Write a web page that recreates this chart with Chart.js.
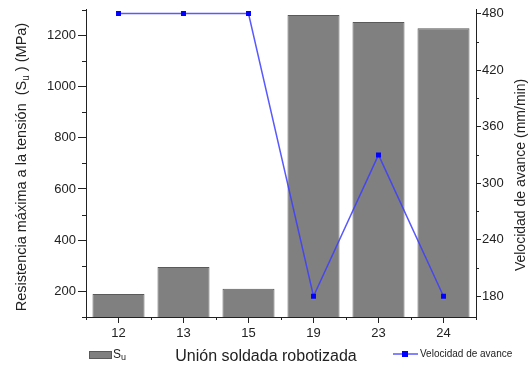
<!DOCTYPE html>
<html>
<head>
<meta charset="utf-8">
<script src="https://cdn.jsdelivr.net/npm/chart.js@4"></script>
<style>
  body { margin: 0; background: #fff; }
</style>
</head>
<body>
<canvas id="weldChart" width="532" height="368"></canvas>
<script>
const categories = ['12', '13', '15', '19', '23', '24'];
const suValues = [190, 295, 210, 1280, 1252, 1228];
const speedValues = [480, 480, 480, 180, 330, 180];
const suTicks = [200, 400, 600, 800, 1000, 1200];
const suMinorTicks = [100, 300, 500, 700, 900, 1100, 1300];
const speedTicks = [180, 240, 300, 360, 420, 480];
const speedMinorTicks = [210, 270, 330, 390, 450];

const FONT = '"Liberation Sans", Arial, sans-serif';
const INK = '#222';

// minor ticks, axis titles and the bottom legend are drawn by hand
const extrasPlugin = {
    id: 'extras',
    afterDraw(chart) {
        const ctx = chart.ctx;
        const { y, y1, x } = chart.scales;
        const area = chart.chartArea;
        ctx.save();
        ctx.strokeStyle = INK;
        ctx.lineWidth = 1;
        ctx.beginPath();
        suMinorTicks.forEach(v => {
            const py = Math.round(y.getPixelForValue(v)) + 0.5;
            ctx.moveTo(area.left - 4, py);
            ctx.lineTo(area.left, py);
        });
        speedMinorTicks.forEach(v => {
            const py = Math.round(y1.getPixelForValue(v)) + 0.5;
            ctx.moveTo(area.right, py);
            ctx.lineTo(area.right + 3, py);
        });
        for (let i = 0; i <= categories.length; i++) {
            const px = Math.round(x.getPixelForValue(i - 0.5)) + 0.5;
            ctx.moveTo(px, area.bottom);
            ctx.lineTo(px, area.bottom + 3);
        }
        ctx.stroke();

        ctx.fillStyle = INK;
        ctx.textBaseline = 'middle';

        // left title, with subscript u
        ctx.save();
        ctx.translate(22, 167);
        ctx.rotate(-Math.PI / 2);
        const partA = 'Resistencia máxima a la tensión  (S';
        const partB = ' ) (MPa)';
        ctx.font = '14.5px ' + FONT;
        const wA = ctx.measureText(partA).width;
        const wB = ctx.measureText(partB).width;
        ctx.font = '10px ' + FONT;
        const wU = ctx.measureText('u').width;
        const total = wA + wU + wB;
        ctx.textAlign = 'left';
        ctx.font = '14.5px ' + FONT;
        ctx.fillText(partA, -total / 2, 0);
        ctx.font = '10px ' + FONT;
        ctx.fillText('u', -total / 2 + wA, 4);
        ctx.font = '14.5px ' + FONT;
        ctx.fillText(partB, -total / 2 + wA + wU, 0);
        ctx.restore();

        // right title
        ctx.save();
        ctx.translate(521, 175);
        ctx.rotate(-Math.PI / 2);
        ctx.textAlign = 'center';
        ctx.font = '14px ' + FONT;
        ctx.fillText('Velocidad de avance (mm/min)', 0, 0);
        ctx.restore();

        // x title
        ctx.textAlign = 'center';
        ctx.font = '16px ' + FONT;
        ctx.fillText('Unión soldada robotizada', 266, 357);

        // legend: bars
        ctx.fillStyle = '#808080';
        ctx.fillRect(89, 351, 23, 8);
        ctx.strokeStyle = '#5a5a5a';
        ctx.strokeRect(89.5, 351.5, 22, 7);
        ctx.fillStyle = INK;
        ctx.textAlign = 'left';
        ctx.font = '12px ' + FONT;
        ctx.fillText('S', 113, 355);
        const wS = ctx.measureText('S').width;
        ctx.font = '9px ' + FONT;
        ctx.fillText('u', 113 + wS, 358);

        // legend: line
        ctx.strokeStyle = 'rgba(60,60,255,0.85)';
        ctx.lineWidth = 1.5;
        ctx.beginPath();
        ctx.moveTo(393, 354);
        ctx.lineTo(418, 354);
        ctx.stroke();
        ctx.fillStyle = '#0000ff';
        ctx.fillRect(402, 351, 6, 6);
        ctx.fillStyle = INK;
        ctx.font = '10px ' + FONT;
        ctx.fillText('Velocidad de avance', 420, 354);
        ctx.restore();
    }
};

const plainTick = v => String(v);

const ctx = document.getElementById('weldChart');
new Chart(ctx, {
    data: {
        labels: categories,
        datasets: [
            {
                type: 'line',
                label: 'Velocidad de avance',
                data: speedValues,
                yAxisID: 'y1',
                order: 0,
                borderColor: 'rgba(60,60,255,0.85)',
                borderWidth: 1.5,
                tension: 0,
                pointStyle: 'rect',
                pointRadius: 3.5,
                pointBackgroundColor: '#0000ff',
                pointBorderColor: '#0000ff',
                pointBorderWidth: 0
            },
            {
                type: 'bar',
                label: 'Su',
                data: suValues,
                yAxisID: 'y',
                order: 1,
                backgroundColor: '#808080',
                borderColor: '#5a5a5a',
                borderWidth: 1,
                barPercentage: 0.8,
                categoryPercentage: 1
            }
        ]
    },
    options: {
        responsive: false,
        animation: false,
        layout: { padding: { top: 8 } },
        plugins: {
            legend: { display: false },
            tooltip: { enabled: false }
        },
        scales: {
            x: {
                offset: true,
                grid: { offset: false, drawOnChartArea: false, tickLength: 6, color: INK },
                border: { display: true, color: INK, width: 1 },
                ticks: { color: INK, font: { size: 13, family: FONT }, padding: 3 },
                afterFit(scale) { scale.height = 51; }
            },
            y: {
                position: 'left',
                min: 100,
                max: 1300,
                afterBuildTicks(scale) { scale.ticks = suTicks.map(v => ({ value: v })); },
                grid: { drawOnChartArea: false, tickLength: 8, color: INK },
                border: { display: true, color: INK, width: 1 },
                ticks: { color: INK, font: { size: 13, family: FONT }, padding: 2, callback: plainTick },
                afterFit(scale) { scale.width = 86; }
            },
            y1: {
                position: 'right',
                min: 158,
                max: 484,
                afterBuildTicks(scale) { scale.ticks = speedTicks.map(v => ({ value: v })); },
                grid: { drawOnChartArea: false, tickLength: 5, color: INK },
                border: { display: true, color: INK, width: 1 },
                ticks: { color: INK, font: { size: 13, family: FONT }, padding: 1, callback: plainTick },
                afterFit(scale) { scale.width = 56; }
            }
        }
    },
    plugins: [extrasPlugin]
});
</script>
</body>
</html>
